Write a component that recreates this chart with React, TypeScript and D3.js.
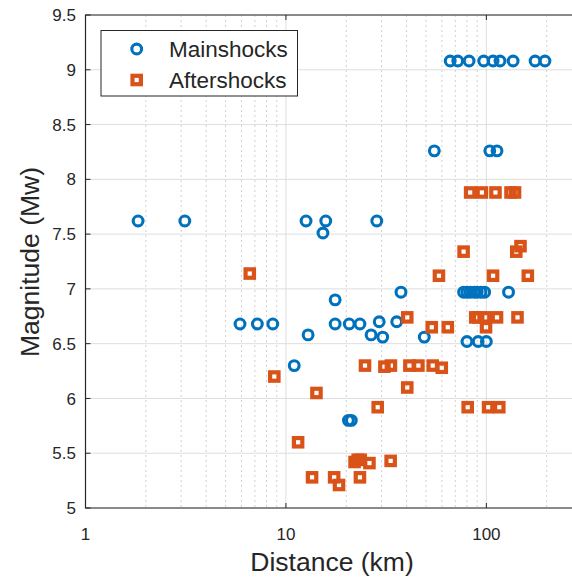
import React, { useEffect, useRef } from "react";
import * as d3 from "d3";

// Mainshocks: distance (km) and magnitude (Mw)
const mainDistance = [
  66, 72, 82, 97, 108, 117, 136, 175, 196,
  55, 104, 113,
  1.83, 3.13, 12.6, 15.8, 28.4,
  15.3,
  37.5, 77, 80, 83, 87, 90, 94, 98, 129,
  17.6,
  5.9, 7.2, 8.6, 17.6, 20.7, 23.4,
  29.2, 35.7,
  12.9, 26.6,
  30.4, 49,
  80, 91, 100,
  11.0,
  20.5, 21.2,
];
const mainMagnitude = [
  9.08, 9.08, 9.08, 9.08, 9.08, 9.08, 9.08, 9.08, 9.08,
  8.26, 8.26, 8.26,
  7.62, 7.62, 7.62, 7.62, 7.62,
  7.51,
  6.97, 6.97, 6.97, 6.97, 6.97, 6.97, 6.97, 6.97, 6.97,
  6.9,
  6.68, 6.68, 6.68, 6.68, 6.68, 6.68,
  6.7, 6.7,
  6.58, 6.58,
  6.56, 6.56,
  6.52, 6.52, 6.52,
  6.3,
  5.8, 5.8,
];

// Aftershocks: distance (km) and magnitude (Mw)
const afterDistance = [
  83, 95, 111, 132, 139,
  148,
  77, 141,
  6.6,
  58, 108, 161,
  40.3, 88, 91, 98.5, 113, 143,
  53.4, 64.2, 99.6,
  24.8, 31.0, 33.4, 41.3, 45.8, 54.0, 59.9,
  8.75,
  40.3,
  14.2,
  28.7, 80.7, 102, 116,
  11.5,
  22.0, 22.8, 23.6, 33.3,
  26.1,
  13.5, 17.4, 23.4,
  18.4,
];
const afterMagnitude = [
  7.88, 7.88, 7.88, 7.88, 7.88,
  7.39,
  7.34, 7.34,
  7.14,
  7.12, 7.12, 7.12,
  6.74, 6.74, 6.74, 6.74, 6.74, 6.74,
  6.65, 6.65, 6.65,
  6.3, 6.29, 6.3, 6.3, 6.3, 6.3, 6.28,
  6.2,
  6.1,
  6.05,
  5.92, 5.92, 5.92, 5.92,
  5.6,
  5.42, 5.44, 5.44, 5.43,
  5.41,
  5.28, 5.28, 5.28,
  5.21,
];

const xTicks = [1, 10, 100];
const xMinorTicks = [2, 3, 4, 5, 6, 7, 8, 9, 20, 30, 40, 50, 60, 70, 80, 90, 200, 300];
const yTicks = [5, 5.5, 6, 6.5, 7, 7.5, 8, 8.5, 9, 9.5];
const seriesNames = ["Mainshocks", "Aftershocks"];

const BLUE = "#0072BD";
const ORANGE = "#D95319";
const AXIS = "#262626";

const App = () => {
  const chartRef = useRef(null);

  useEffect(() => {
    const width = 572;
    const height = 582;
    const margin = { left: 85.5, top: 15, right: 582, bottom: 508 };

    d3.select(chartRef.current).select("svg").remove();

    const svg = d3
      .select(chartRef.current)
      .append("svg")
      .attr("width", width)
      .attr("height", height)
      .style("position", "absolute")
      .style("left", "0px")
      .style("top", "0px")
      .style("font-family", "'Liberation Sans', Arial, sans-serif");

    const x = d3.scaleLog().domain([1, 300]).range([margin.left, margin.right]);
    const y = d3.scaleLinear().domain([5, 9.5]).range([margin.bottom, margin.top]);

    // Grid
    svg
      .append("g")
      .selectAll("line")
      .data(xMinorTicks)
      .enter()
      .append("line")
      .attr("x1", (d) => x(d))
      .attr("x2", (d) => x(d))
      .attr("y1", margin.top)
      .attr("y2", margin.bottom)
      .attr("stroke", "#d0d0d0")
      .attr("stroke-width", 1)
      .attr("stroke-dasharray", "2,3");

    svg
      .append("g")
      .selectAll("line")
      .data(xTicks)
      .enter()
      .append("line")
      .attr("x1", (d) => x(d))
      .attr("x2", (d) => x(d))
      .attr("y1", margin.top)
      .attr("y2", margin.bottom)
      .attr("stroke", "#dedede")
      .attr("stroke-width", 1);

    svg
      .append("g")
      .selectAll("line")
      .data(yTicks)
      .enter()
      .append("line")
      .attr("x1", margin.left)
      .attr("x2", margin.right)
      .attr("y1", (d) => y(d))
      .attr("y2", (d) => y(d))
      .attr("stroke", "#dedede")
      .attr("stroke-width", 1);

    // Box / axes
    svg
      .append("path")
      .attr(
        "d",
        `M${margin.right},${margin.top}H${margin.left}V${margin.bottom}H${margin.right}`
      )
      .attr("fill", "none")
      .attr("stroke", AXIS)
      .attr("stroke-width", 1.2);

    // Inner ticks
    const tickLen = 5;
    xTicks.forEach((t) => {
      svg.append("line").attr("x1", x(t)).attr("x2", x(t)).attr("y1", margin.bottom).attr("y2", margin.bottom - tickLen).attr("stroke", AXIS);
      svg.append("line").attr("x1", x(t)).attr("x2", x(t)).attr("y1", margin.top).attr("y2", margin.top + tickLen).attr("stroke", AXIS);
    });
    yTicks.forEach((t) => {
      svg.append("line").attr("x1", margin.left).attr("x2", margin.left + tickLen).attr("y1", y(t)).attr("y2", y(t)).attr("stroke", AXIS);
    });

    // Tick labels
    svg
      .append("g")
      .selectAll("text")
      .data(xTicks)
      .enter()
      .append("text")
      .attr("x", (d) => x(d))
      .attr("y", 540)
      .style("text-anchor", "middle")
      .style("font-size", "17px")
      .attr("fill", AXIS)
      .text((d) => d);

    svg
      .append("g")
      .selectAll("text")
      .data(yTicks)
      .enter()
      .append("text")
      .attr("x", 76)
      .attr("y", (d) => y(d))
      .attr("dy", "0.36em")
      .style("text-anchor", "end")
      .style("font-size", "17px")
      .attr("fill", AXIS)
      .text((d) => d);

    // Axis titles
    svg
      .append("text")
      .attr("x", 332)
      .attr("y", 571)
      .style("text-anchor", "middle")
      .style("font-size", "26.5px")
      .attr("fill", AXIS)
      .text("Distance (km)");

    svg
      .append("text")
      .attr("transform", "translate(38.5,262) rotate(-90)")
      .style("text-anchor", "middle")
      .style("font-size", "26.5px")
      .attr("fill", AXIS)
      .text("Magnitude (Mw)");

    // Mainshocks
    svg
      .append("g")
      .selectAll("circle")
      .data(mainDistance.map((d, i) => [d, mainMagnitude[i]]))
      .enter()
      .append("circle")
      .attr("cx", (d) => x(d[0]))
      .attr("cy", (d) => y(d[1]))
      .attr("r", 4.9)
      .attr("fill", "none")
      .attr("stroke", BLUE)
      .attr("stroke-width", 3.1);

    // Aftershocks
    const sq = 8.4;
    svg
      .append("g")
      .selectAll("rect")
      .data(afterDistance.map((d, i) => [d, afterMagnitude[i]]))
      .enter()
      .append("rect")
      .attr("x", (d) => x(d[0]) - sq / 2)
      .attr("y", (d) => y(d[1]) - sq / 2)
      .attr("width", sq)
      .attr("height", sq)
      .attr("fill", "none")
      .attr("stroke", ORANGE)
      .attr("stroke-width", 4.2);

    // Legend
    const legend = svg.append("g");
    legend
      .append("rect")
      .attr("x", 101)
      .attr("y", 30.5)
      .attr("width", 196.5)
      .attr("height", 65.5)
      .attr("fill", "#fff")
      .attr("stroke", AXIS)
      .attr("stroke-width", 1);

    seriesNames.forEach((name, i) => {
      const cy = 49 + i * 31;
      if (i === 0) {
        legend.append("circle").attr("cx", 136.7).attr("cy", cy).attr("r", 4.9).attr("fill", "none").attr("stroke", BLUE).attr("stroke-width", 3.1);
      } else {
        legend.append("rect").attr("x", 136.7 - sq / 2).attr("y", cy - sq / 2).attr("width", sq).attr("height", sq).attr("fill", "none").attr("stroke", ORANGE).attr("stroke-width", 4.2);
      }
      legend
        .append("text")
        .attr("x", 169)
        .attr("y", cy)
        .attr("dy", "0.36em")
        .style("font-size", "22.5px")
        .attr("fill", AXIS)
        .text(name);
    });
  }, []);

  return <div ref={chartRef}></div>;
};

export default App;
